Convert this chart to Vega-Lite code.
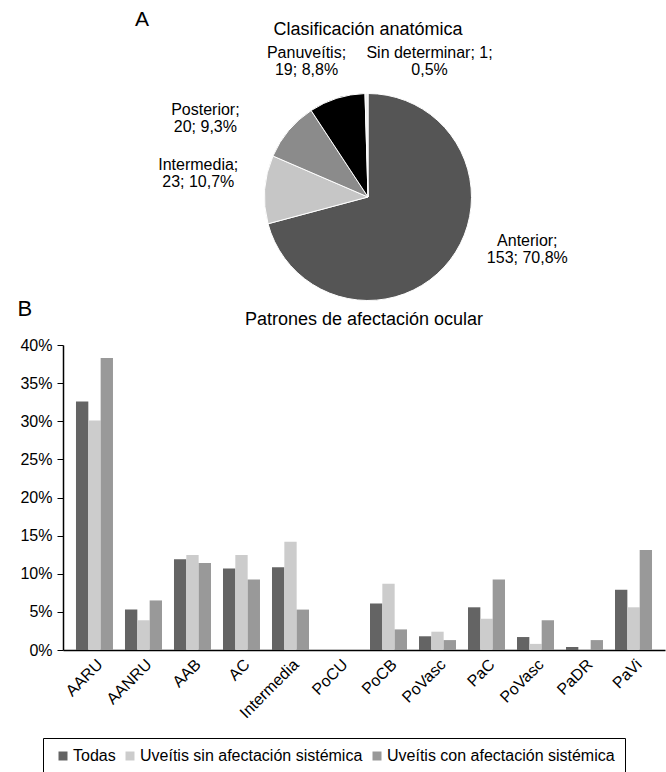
{
  "$schema": "https://vega.github.io/schema/vega-lite/v6.json",
  "background": "white",
  "padding": {"left": 17, "top": 9, "right": 0, "bottom": 0},
  "config": {
    "font": "Liberation Sans",
    "view": {"stroke": null},
    "title": {"color": "#000", "fontWeight": "normal"},
    "axis": {"labelColor": "#000", "titleColor": "#000"},
    "legend": {"labelColor": "#000"}
  },
  "title": {"text": "A", "anchor": "start", "frame": "group", "fontSize": 21, "fontWeight": "normal", "dx": 72, "offset": -9.5},
  "bounds": "flush",
  "spacing": 38,
  "resolve": {"scale": {"color": "independent"}, "legend": {"color": "independent"}},
  "vconcat": [
    {
      "width": 610,
      "height": 220,
      "title": {"text": "Clasificación anatómica", "fontSize": 18, "offset": 1.5, "anchor": "middle", "frame": "group"},
      "data": {
        "values": [
          {"cat": "Anterior", "n": 153, "o": 1, "label": "Anterior;\n153; 70,8%"},
          {"cat": "Intermedia", "n": 23, "o": 2, "label": "Intermedia;\n23; 10,7%"},
          {"cat": "Posterior", "n": 20, "o": 3, "label": "Posterior;\n20; 9,3%"},
          {"cat": "Panuveítis", "n": 19, "o": 4, "label": "Panuveítis;\n19; 8,8%"},
          {"cat": "Sin determinar", "n": 1, "o": 5, "label": "Sin determinar; 1;\n0,5%"}
        ]
      },
      "encoding": {
        "theta": {"field": "n", "type": "quantitative", "stack": true},
        "order": {"field": "o", "type": "quantitative"}
      },
      "layer": [
        {
          "mark": {"type": "arc", "outerRadius": 103.5, "stroke": "#ffffff", "strokeWidth": 1},
          "encoding": {
            "color": {
              "field": "cat", "type": "nominal",
              "scale": {"domain": ["Anterior", "Intermedia", "Posterior", "Panuveítis", "Sin determinar"], "range": ["#555555", "#c6c6c6", "#8b8b8b", "#000000", "#eeeeee"]},
              "legend": null
            }
          }
        },
        {
          "mark": {"type": "text", "radius": 100, "fontSize": 16, "lineBreak": "\n", "lineHeight": 17, "dx": 80, "dy": -17, "fill": "#000"},
          "encoding": {"text": {"condition": {"test": "datum.cat === 'Anterior'", "field": "label", "type": "nominal"}, "value": ""}}
        },
        {
          "mark": {"type": "text", "radius": 100, "fontSize": 16, "lineBreak": "\n", "lineHeight": 17, "dx": -70, "dy": -24.7, "fill": "#000"},
          "encoding": {"text": {"condition": {"test": "datum.cat === 'Intermedia'", "field": "label", "type": "nominal"}, "value": ""}}
        },
        {
          "mark": {"type": "text", "radius": 100, "fontSize": 16, "lineBreak": "\n", "lineHeight": 17, "dx": -86, "dy": -22.7, "fill": "#000"},
          "encoding": {"text": {"condition": {"test": "datum.cat === 'Posterior'", "field": "label", "type": "nominal"}, "value": ""}}
        },
        {
          "mark": {"type": "text", "radius": 100, "fontSize": 16, "lineBreak": "\n", "lineHeight": 17, "dx": -31.4, "dy": -49, "fill": "#000"},
          "encoding": {"text": {"condition": {"test": "datum.cat === 'Panuveítis'", "field": "label", "type": "nominal"}, "value": ""}}
        },
        {
          "mark": {"type": "text", "radius": 100, "fontSize": 16, "lineBreak": "\n", "lineHeight": 17, "dx": 63, "dy": -44.5, "fill": "#000"},
          "encoding": {"text": {"condition": {"test": "datum.cat === 'Sin determinar'", "field": "label", "type": "nominal"}, "value": ""}}
        }
      ]
    },
    {
      "width": 602,
      "height": 305,
      "title": {"text": "Patrones de afectación ocular", "fontSize": 18, "offset": -32, "anchor": "middle", "frame": "group"},
      "data": {
        "values": [
          {"pat": "AARU", "grupo": "Todas", "v": 32.6},
          {"pat": "AARU", "grupo": "Uveítis sin afectación sistémica", "v": 30.1},
          {"pat": "AARU", "grupo": "Uveítis con afectación sistémica", "v": 38.3},
          {"pat": "AANRU", "grupo": "Todas", "v": 5.3},
          {"pat": "AANRU", "grupo": "Uveítis sin afectación sistémica", "v": 3.9},
          {"pat": "AANRU", "grupo": "Uveítis con afectación sistémica", "v": 6.5},
          {"pat": "AAB", "grupo": "Todas", "v": 11.9},
          {"pat": "AAB", "grupo": "Uveítis sin afectación sistémica", "v": 12.45},
          {"pat": "AAB", "grupo": "Uveítis con afectación sistémica", "v": 11.4},
          {"pat": "AC", "grupo": "Todas", "v": 10.7},
          {"pat": "AC", "grupo": "Uveítis sin afectación sistémica", "v": 12.45},
          {"pat": "AC", "grupo": "Uveítis con afectación sistémica", "v": 9.25},
          {"pat": "Intermedia", "grupo": "Todas", "v": 10.85},
          {"pat": "Intermedia", "grupo": "Uveítis sin afectación sistémica", "v": 14.2},
          {"pat": "Intermedia", "grupo": "Uveítis con afectación sistémica", "v": 5.3},
          {"pat": "PoCU", "grupo": "Todas", "v": 0},
          {"pat": "PoCU", "grupo": "Uveítis sin afectación sistémica", "v": 0},
          {"pat": "PoCU", "grupo": "Uveítis con afectación sistémica", "v": 0},
          {"pat": "PoCB", "grupo": "Todas", "v": 6.1},
          {"pat": "PoCB", "grupo": "Uveítis sin afectación sistémica", "v": 8.7},
          {"pat": "PoCB", "grupo": "Uveítis con afectación sistémica", "v": 2.7},
          {"pat": "PoVasc", "grupo": "Todas", "v": 1.8},
          {"pat": "PoVasc", "grupo": "Uveítis sin afectación sistémica", "v": 2.4},
          {"pat": "PoVasc", "grupo": "Uveítis con afectación sistémica", "v": 1.3},
          {"pat": "PaC", "grupo": "Todas", "v": 5.6},
          {"pat": "PaC", "grupo": "Uveítis sin afectación sistémica", "v": 4.1},
          {"pat": "PaC", "grupo": "Uveítis con afectación sistémica", "v": 9.25},
          {"pat": "PoVasc2", "grupo": "Todas", "v": 1.7},
          {"pat": "PoVasc2", "grupo": "Uveítis sin afectación sistémica", "v": 0.8},
          {"pat": "PoVasc2", "grupo": "Uveítis con afectación sistémica", "v": 3.9},
          {"pat": "PaDR", "grupo": "Todas", "v": 0.4},
          {"pat": "PaDR", "grupo": "Uveítis sin afectación sistémica", "v": 0},
          {"pat": "PaDR", "grupo": "Uveítis con afectación sistémica", "v": 1.3},
          {"pat": "PaVi", "grupo": "Todas", "v": 7.9},
          {"pat": "PaVi", "grupo": "Uveítis sin afectación sistémica", "v": 5.6},
          {"pat": "PaVi", "grupo": "Uveítis con afectación sistémica", "v": 13.1}
        ]
      },
      "mark": {"type": "bar"},
      "encoding": {
        "x": {
          "field": "pat", "type": "nominal",
          "sort": ["AARU", "AANRU", "AAB", "AC", "Intermedia", "PoCU", "PoCB", "PoVasc", "PaC", "PoVasc2", "PaDR", "PaVi"],
          "scale": {"paddingInner": 0.245, "paddingOuter": 0.265},
          "axis": {"title": null, "labelAngle": -45, "labelAlign": "right", "labelBaseline": "top", "labelFontSize": 16, "labelPadding": 6, "ticks": false, "domainColor": "#000", "domainWidth": 1.5, "labelExpr": "datum.value === 'PoVasc2' ? 'PoVasc' : datum.value"}
        },
        "xOffset": {"field": "grupo", "type": "nominal", "sort": ["Todas", "Uveítis sin afectación sistémica", "Uveítis con afectación sistémica"], "scale": {"paddingInner": 0, "paddingOuter": 0}},
        "y": {
          "field": "v", "type": "quantitative",
          "scale": {"domain": [0, 40]},
          "axis": {"title": "B", "titleAngle": 0, "titleX": -46, "titleY": -30, "titleAlign": "left", "titleBaseline": "alphabetic", "titleFontSize": 22, "titleFontWeight": "normal", "values": [0, 5, 10, 15, 20, 25, 30, 35, 40], "labelExpr": "datum.value + '%'", "grid": false, "tickSize": 6, "tickColor": "#000", "domainColor": "#000", "domainWidth": 1.5, "labelFontSize": 16, "labelPadding": 5}
        },
        "color": {
          "field": "grupo", "type": "nominal",
          "scale": {"domain": ["Todas", "Uveítis sin afectación sistémica", "Uveítis con afectación sistémica"], "range": ["#646464", "#cccccc", "#999999"]},
          "legend": {"orient": "none", "legendX": -20, "legendY": 393, "direction": "horizontal", "title": null, "labelFontSize": 16, "labelLimit": 0, "symbolType": "square", "symbolSize": 81, "symbolStrokeWidth": 0, "symbolOffset": 2, "strokeColor": "#000", "padding": 10, "columnPadding": 4, "labelOffset": 2}
        }
      }
    }
  ]
}
